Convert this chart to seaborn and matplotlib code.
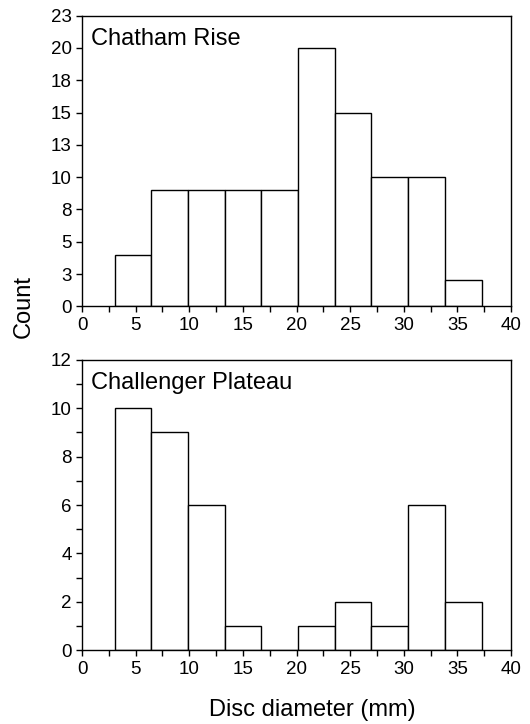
import numpy as np
import matplotlib
matplotlib.use("Agg")
import matplotlib.pyplot as plt
import seaborn as sns
from matplotlib.ticker import FixedLocator, FuncFormatter, MultipleLocator

# Data
bin_edges = [3.05, 6.47, 9.89, 13.31, 16.73, 20.15, 23.57, 26.99, 30.41, 33.83, 37.25]
chatham_counts = [4, 9, 9, 9, 9, 20, 15, 10, 10, 2]
challenger_counts = [10, 9, 6, 1, 0, 1, 2, 1, 6, 2]
panel_titles = ["Chatham Rise", "Challenger Plateau"]
x_ticks = [0, 5, 10, 15, 20, 25, 30, 35, 40]
top_y_ticks = [0, 2.5, 5, 7.5, 10, 12.5, 15, 17.5, 20, 22.5]
bottom_y_ticks = [0, 2, 4, 6, 8, 10, 12]

sns.set_theme(style="ticks")
plt.rcParams['font.family'] = ['Liberation Sans', 'DejaVu Sans']
plt.rcParams['axes.linewidth'] = 1.0

fig = plt.figure(figsize=(5.3, 7.24), dpi=100)
left, width = 82 / 530, (511 - 82) / 530
ax1 = fig.add_axes([left, 1 - 306.3 / 724, width, (306.3 - 15.7) / 724])
ax2 = fig.add_axes([left, 1 - 650.3 / 724, width, (650.3 - 359.7) / 724])

centers = [(bin_edges[i] + bin_edges[i + 1]) / 2 for i in range(len(bin_edges) - 1)]

for ax, counts, title, yticks in [
    (ax1, chatham_counts, panel_titles[0], top_y_ticks),
    (ax2, challenger_counts, panel_titles[1], bottom_y_ticks),
]:
    sns.histplot(x=centers, weights=counts, bins=bin_edges, color="white",
                 edgecolor="black", linewidth=1.0, alpha=1, ax=ax)
    ax.set_xlim(0, 40)
    ax.set_ylim(0, yticks[-1])
    ax.xaxis.set_major_locator(FixedLocator(x_ticks))
    ax.xaxis.set_minor_locator(MultipleLocator(2.5))
    ax.yaxis.set_major_locator(FixedLocator(yticks))
    ax.set_xlabel("")
    ax.set_ylabel("")
    for s in ax.spines.values():
        s.set_visible(True)
        s.set_color("black")
        s.set_linewidth(1.0)
    ax.tick_params(which="major", direction="out", length=4.5, width=1.0,
                   labelsize=13.5, colors="black", pad=3)
    ax.tick_params(which="minor", direction="out", length=4.5, width=1.0, colors="black")
    ax.text(0.022, 0.899, title, transform=ax.transAxes, fontsize=17,
            ha="left", va="baseline", color="black")

ax1.yaxis.set_major_formatter(FuncFormatter(lambda v, p: str(int(np.floor(v + 0.5)))))
ax2.yaxis.set_minor_locator(MultipleLocator(1))
ax2.tick_params(axis="y", which="minor", length=4.5)

fig.text(24 / 530, 1 - 306 / 724, "Count", rotation=90, fontsize=17,
         ha="center", va="center", color="black")
fig.text(312 / 530, 1 - 710 / 724, "Disc diameter (mm)", fontsize=17,
         ha="center", va="center", color="black")

fig.savefig("out.png", dpi=100, facecolor="white")
